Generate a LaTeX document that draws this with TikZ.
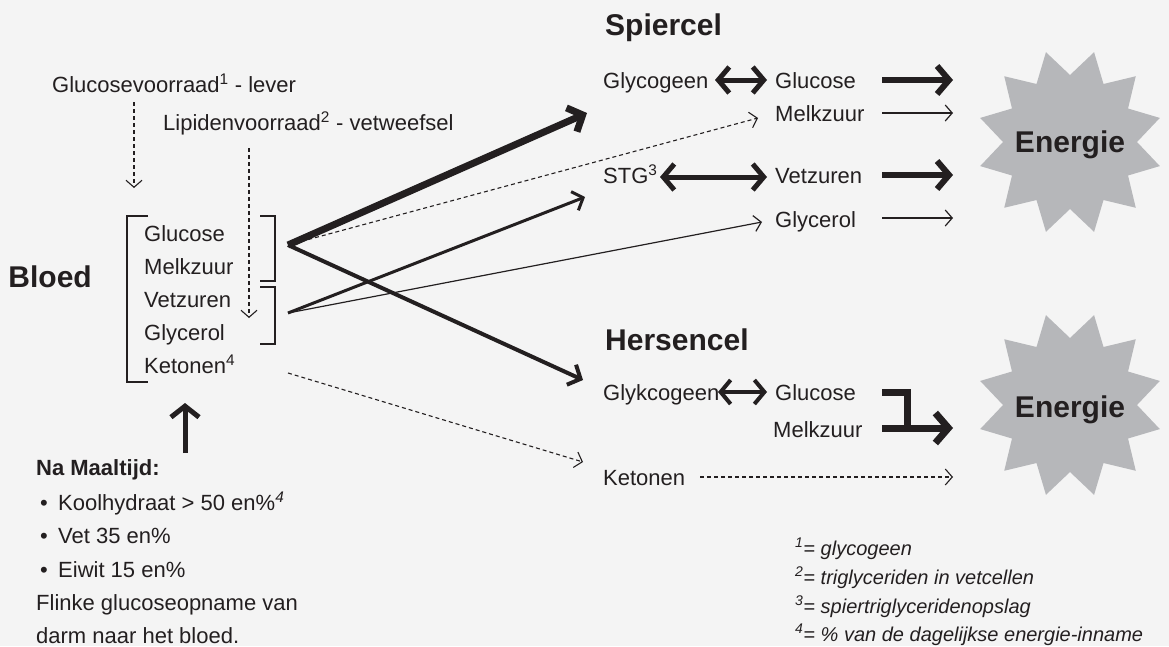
\documentclass[tikz,border=0pt]{standalone}
\usepackage{fontspec}
\setmainfont{Liberation Sans}
\usetikzlibrary{arrows.meta}
\definecolor{bg}{RGB}{244,244,244}
\definecolor{ink}{RGB}{35,31,32}
\definecolor{burst}{RGB}{182,183,186}
\begin{document}
\begin{tikzpicture}[x=1pt,y=-1pt,
  txt/.style={inner sep=0pt, anchor=base west, font=\fontsize{22}{26}\selectfont, text=ink},
  hd/.style={inner sep=0pt, anchor=base west, font=\fontsize{30}{34}\selectfont\bfseries, text=ink},
  fn/.style={inner sep=0pt, anchor=base west, font=\fontsize{20}{24}\selectfont\itshape, text=ink},
  ln/.style={draw=ink, line join=miter},
  dsharr/.style={draw=ink, line width=1.1pt, dash pattern=on 4pt off 3pt, -{Straight Barb[length=7pt,width=16pt]}},
  thinarr/.style={draw=ink, line width=1.2pt, -{Straight Barb[length=7pt,width=16pt]}},
  fatarr/.style={draw=ink, line width=6pt, line join=miter, -{Straight Barb[length=12pt,width=28pt]}},
  dblarr/.style={draw=ink, line width=5pt, line join=miter, {Straight Barb[length=11pt,width=26pt]}-{Straight Barb[length=11pt,width=26pt]}},
]
\fill[bg] (0,0) rectangle (1169,646);
\useasboundingbox (0,0) rectangle (1169,646);

% starbursts
\fill[burst] plot[samples at={0,...,23}, variable=\k] ({1070+(93-26*mod(\k,2))*cos(15*\k+15)}, {142-(93-26*mod(\k,2))*sin(15*\k+15)}) -- cycle;
\fill[burst] plot[samples at={0,...,23}, variable=\k] ({1070+(93-26*mod(\k,2))*cos(15*\k+15)}, {405-(93-26*mod(\k,2))*sin(15*\k+15)}) -- cycle;
\node[hd, anchor=base] (en1) at (1070,152) {Energie};
\node[hd, anchor=base] (en2) at (1070,417) {Energie};

% top left stores
\node[txt] (gv) at (52,92) {Glucosevoorraad\textsuperscript{1} - lever};
\node[txt] (lv) at (163,130) {Lipidenvoorraad\textsuperscript{2} - vetweefsel};
\coordinate (gvs) at (134,102); \coordinate (gvt) at (134,188);
\coordinate (lvs) at (249,148); \coordinate (lvt) at (249,318);
\draw[dsharr] (gvs) -- (gvt);
\draw[dsharr] (lvs) -- (lvt);

% blood
\node[hd, anchor=base east] (bl) at (92,287) {Bloed};
\node[txt] (bglu) at (144,241) {Glucose};
\node[txt] (bmel) at (144,274) {Melkzuur};
\node[txt] (bvet) at (144,307) {Vetzuren};
\node[txt] (bgly) at (144,340) {Glycerol};
\node[txt] (bket) at (144,373) {Ketonen\textsuperscript{4}};
\draw[ln, line width=1.8pt] (148,216) -- (127,216) -- (127,382) -- (148,382);
\draw[ln, line width=1.8pt] (260,216) -- (275,216) -- (275,281) -- (260,281);
\draw[ln, line width=1.8pt] (260,287) -- (275,287) -- (275,344) -- (260,344);

% meal
\coordinate (ups) at (185,453); \coordinate (upt) at (185,403);
\draw[draw=ink, line width=5pt, -{Straight Barb[length=11pt,width=28pt]}] (ups) -- (upt);
\node[txt, font=\fontsize{22}{26}\selectfont\bfseries] (na) at (36,475) {Na Maaltijd:};
\node[txt] (b1) at (40,510) {\makebox[18pt][l]{\textbullet}Koolhydraat > 50 en\%\textsuperscript{\itshape 4}};
\node[txt] (b2) at (40,543) {\makebox[18pt][l]{\textbullet}Vet 35 en\%};
\node[txt] (b3) at (40,577) {\makebox[18pt][l]{\textbullet}Eiwit 15 en\%};
\node[txt] (fl1) at (36,610) {Flinke glucoseopname van};
\node[txt] (fl2) at (36,643) {darm naar het bloed.};

% Spiercel
\node[hd] (sp) at (605,35) {Spiercel};
\node[txt] (sgly) at (603,88) {Glycogeen};
\node[txt] (sglu) at (775,88) {Glucose};
\node[txt] (smel) at (775,121) {Melkzuur};
\node[txt] (sstg) at (603,183) {STG\textsuperscript{3}};
\node[txt] (svet) at (775,183) {Vetzuren};
\node[txt] (sgcl) at (775,227) {Glycerol};
\draw[dblarr] (715,80) -- (767,80);
\draw[dblarr] (660,177) -- (767,177);
\draw[fatarr] (882,80) -- (953,80);
\draw[thinarr] (882,113) -- (953,113);
\draw[fatarr] (882,175) -- (953,175);
\draw[thinarr] (882,218) -- (953,218);

% Hersencel
\node[hd] (hc) at (605,350) {Hersencel};
\node[txt] (hgly) at (603,400) {Glykcogeen};
\node[txt] (hglu) at (775,400) {Glucose};
\node[txt] (hmel) at (773,437) {Melkzuur};
\node[txt] (hket) at (603,485) {Ketonen};
\draw[draw=ink, line width=4pt, line join=miter, {Straight Barb[length=10pt,width=24pt]}-{Straight Barb[length=10pt,width=24pt]}] (718,392) -- (767,392);
\draw[ln, line width=7pt] (882,392) -- (907,392) -- (907,431.5);
\draw[draw=ink, line width=7pt, -{Straight Barb[length=13pt,width=30pt]}] (882,428) -- (953,428);
\draw[dsharr] (700,477) -- (953,477);

% blood to cells
\coordinate (A) at (288,245);
\coordinate (B) at (288,313);
\coordinate (K) at (288,373);
\coordinate (tsp) at (587,113);
\coordinate (tmel) at (758,118);
\coordinate (thc) at (583,380);
\coordinate (tstg) at (585,197);
\coordinate (tgcl) at (762,222);
\coordinate (tket) at (583,462);
\draw[draw=ink, line width=7pt, -{Straight Barb[length=12pt,width=26pt]}] (A) -- (tsp);
\draw[dsharr] (A) -- (tmel);
\draw[draw=ink, line width=4pt, -{Straight Barb[length=10pt,width=22pt]}] (A) -- (thc);
\draw[draw=ink, line width=3pt, -{Straight Barb[length=9pt,width=20pt]}] (B) -- (tstg);
\draw[thinarr] (B) -- (tgcl);
\draw[dsharr] (K) -- (tket);

% footnotes
\node[fn] (f1) at (795,555) {\textsuperscript{1}= glycogeen};
\node[fn] (f2) at (795,584) {\textsuperscript{2}= triglyceriden in vetcellen};
\node[fn] (f3) at (795,613) {\textsuperscript{3}= spiertriglyceridenopslag};
\node[fn] (f4) at (795,641) {\textsuperscript{4}= \% van de dagelijkse energie-inname};
\end{tikzpicture}
\end{document}
